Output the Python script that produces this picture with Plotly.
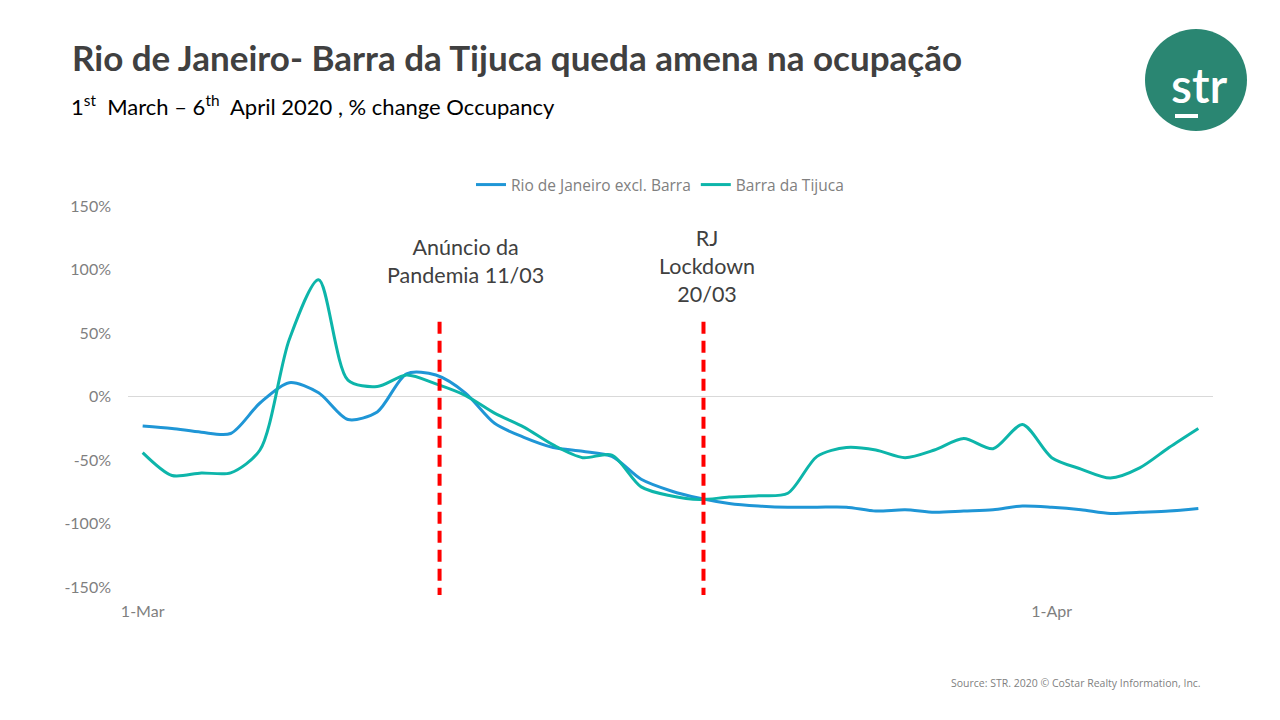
import plotly.graph_objects as go
import pandas as pd

dates = pd.date_range("2020-03-01", "2020-04-06", freq="D")
rio_excl_barra = [-23, -25, -28, -29, -5, 11, 3, -18, -12, 18, 17, 3, -21, -32, -40, -43, -47, -65, -74,
                  -80, -84, -86, -87, -87, -87, -90, -89, -91, -90, -89, -86, -87, -89, -92, -91, -90, -88]
barra_tijuca = [-44, -62, -60, -60, -42, 45, 92, 13, 8, 17, 10, 1, -13, -24, -38, -48, -46, -71, -78,
                -81, -79, -78, -76, -47, -40, -42, -48, -42, -33, -41, -22, -48, -57, -64, -56, -40, -25]
event_dates = ["2020-03-11", "2020-03-20"]
event_labels = ["Anúncio da<br>Pandemia 11/03", "RJ<br>Lockdown<br>20/03"]
ytick_vals = [-150, -100, -50, 0, 50, 100, 150]
ytick_text = ["-150%", "-100%", "-50%", "0%", "50%", "100%", "150%"]
xtick_vals = ["2020-03-01", "2020-04-01"]
xtick_text = ["1-Mar", "1-Apr"]

OFF = 8  # page body margin
W, H = 1280 - OFF, 720 - OFF
# plot area in screen pixels: left 128, right 1213, top 206, bottom 600
L, R, T, B = 128 - OFF, W - (1213 - OFF), 206 - OFF, H - (600 - OFF)
pw, ph = W - L - R, H - T - B


def px(x):
    return (x - OFF - L) / pw


def py(y):
    return (H - B - (y - OFF)) / ph


fig = go.Figure()
fig.add_trace(go.Scatter(x=dates, y=rio_excl_barra, name="Rio de Janeiro excl. Barra", mode="lines",
                         line=dict(color="#1F96D6", width=3, shape="spline", smoothing=0.8)))
fig.add_trace(go.Scatter(x=dates, y=barra_tijuca, name="Barra da Tijuca", mode="lines",
                         line=dict(color="#0DB5AA", width=3, shape="spline", smoothing=0.8)))

shapes = []
for d in event_dates:
    xd = pd.Timestamp(d) + pd.Timedelta(hours=3)
    shapes.append(dict(type="line", xref="x", yref="y", x0=xd, x1=xd, y0=59, y1=-156,
                       line=dict(color="#FF0000", width=4, dash="12px,7px")))
# logo
shapes.append(dict(type="circle", xref="paper", yref="paper", x0=px(1145), x1=px(1247),
                   y0=py(131), y1=py(29), fillcolor="#2A8672", line=dict(width=0)))
shapes.append(dict(type="rect", xref="paper", yref="paper", x0=px(1175), x1=px(1198),
                   y0=py(118), y1=py(114), fillcolor="white", line=dict(width=0)))

annotations = [
    dict(text="<b>Rio de Janeiro- Barra da Tijuca queda amena na ocupação</b>", xref="paper", yref="paper",
         x=px(70), y=py(57), xanchor="left", yanchor="middle", showarrow=False,
         font=dict(family="Lato", size=35, color="#404040")),
    dict(text="1<sup>st</sup>  March – 6<sup>th</sup>  April 2020 , % change Occupancy", xref="paper", yref="paper",
         x=px(69), y=py(106), xanchor="left", yanchor="middle", showarrow=False,
         font=dict(family="Lato", size=22, color="#000000")),
    dict(text="str", xref="paper", yref="paper", x=px(1199), y=py(84), xanchor="center", yanchor="middle",
         showarrow=False, font=dict(family="Lato", size=48, color="white", weight=600)),
    dict(text="Source: STR. 2020 © CoStar Realty Information, Inc.", xref="paper", yref="paper",
         x=px(1203), y=py(683), xanchor="right", yanchor="middle", showarrow=False,
         font=dict(family="Open Sans", size=10.5, color="#7F7F7F")),
    dict(text=event_labels[0], xref="x", yref="paper", x="2020-03-12", y=py(261), xanchor="center",
         yanchor="middle", showarrow=False, font=dict(family="Lato", size=21.5, color="#404040")),
    dict(text=event_labels[1], xref="x", yref="paper", x="2020-03-20 06:00", y=py(266), xanchor="center",
         yanchor="middle", showarrow=False, font=dict(family="Lato", size=21.5, color="#404040")),
]

fig.update_layout(
    width=W, height=H, margin=dict(l=L, r=R, t=T, b=B),
    paper_bgcolor="white", plot_bgcolor="white",
    font=dict(family="Lato", color="#7F7F7F"),
    showlegend=True,
    legend=dict(orientation="h", x=px(660), y=py(185), xanchor="center", yanchor="middle",
                font=dict(family="Open Sans", size=15.5, color="#808080"), itemwidth=30),
    xaxis=dict(type="date", range=["2020-02-29 12:00", "2020-04-06 12:00"], tickvals=xtick_vals,
               ticktext=xtick_text, showgrid=False, zeroline=False, showline=False,
               tickfont=dict(family="Lato", size=16, color="#7F7F7F"), ticks=""),
    yaxis=dict(range=[-160, 150], tickvals=ytick_vals, ticktext=ytick_text, showgrid=False,
               zeroline=True, zerolinecolor="#D9D9D9", zerolinewidth=1, showline=False,
               tickfont=dict(family="Lato", size=16, color="#7F7F7F"), ticks="", ticklabelstandoff=16),
    shapes=shapes, annotations=annotations,
)

fig.write_html("out.html")
